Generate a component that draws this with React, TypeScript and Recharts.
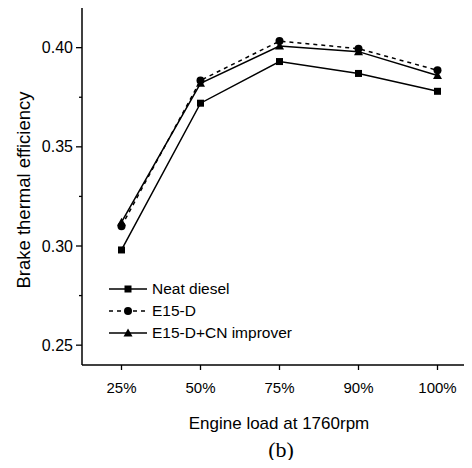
import React from 'react';
import { LineChart, Line, XAxis, YAxis, Customized } from 'recharts';

const loads = ['25%', '50%', '75%', '90%', '100%'];
const neatDiesel = [0.298, 0.372, 0.393, 0.387, 0.378];
const e15d = [0.310, 0.3835, 0.4033, 0.3995, 0.3886];
const e15dCn = [0.312, 0.382, 0.4008, 0.398, 0.386];
const yTicks = [0.25, 0.275, 0.3, 0.325, 0.35, 0.375, 0.4];
const majorTicks = ['0.25', '0.30', '0.35', '0.40'];

const data = loads.map((load, i) => ({
  load,
  neat: neatDiesel[i],
  e15d: e15d[i],
  e15dcn: e15dCn[i],
}));

const FONT = '"Liberation Sans", Arial, sans-serif';

const Square = (props: any) => {
  const { cx, cy } = props;
  if (cx == null || cy == null) return null;
  return <rect x={cx - 3.5} y={cy - 3.5} width={7} height={7} fill="#000" />;
};
const Circle = (props: any) => {
  const { cx, cy } = props;
  if (cx == null || cy == null) return null;
  return <circle cx={cx} cy={cy} r={4} fill="#000" />;
};
const Tri = (props: any) => {
  const { cx, cy } = props;
  if (cx == null || cy == null) return null;
  return <polygon points={`${cx},${cy - 4.5} ${cx - 4.5},${cy + 3.5} ${cx + 4.5},${cy + 3.5}`} fill="#000" />;
};

const YTick = (props: any) => {
  const { y, payload } = props;
  const v = payload.value;
  const label = v.toFixed(2);
  const isMajor = majorTicks.includes(label) && Math.abs(v * 1000 - Math.round(v * 20) * 50) < 1;
  return (
    <g>
      <line x1={82} x2={isMajor ? 76 : 79} y1={y} y2={y} stroke="#000" strokeWidth={1.3} />
      {isMajor && (
        <text x={73} y={y + 5.5} textAnchor="end" fontSize={16} fontFamily={FONT} fill="#000">
          {label}
        </text>
      )}
    </g>
  );
};

const XTick = (props: any) => {
  const { x, payload } = props;
  return (
    <g>
      <line x1={x} x2={x} y1={365} y2={370} stroke="#000" strokeWidth={1.3} />
      <text x={x} y={393} textAnchor="middle" fontSize={15} fontFamily={FONT} fill="#000">
        {payload.value}
      </text>
    </g>
  );
};

const Extras = () => {
  const rows = [
    { label: 'Neat diesel', y: 289, dash: undefined, M: Square },
    { label: 'E15-D', y: 311, dash: '4 4', M: Circle },
    { label: 'E15-D+CN improver', y: 333, dash: undefined, M: Tri },
  ];
  return (
    <g>
      {rows.map((r) => (
        <g key={r.label}>
          <line x1={109} x2={147} y1={r.y} y2={r.y} stroke="#000" strokeWidth={1.5} strokeDasharray={r.dash} />
          <r.M cx={128} cy={r.y} />
          <text x={152} y={r.y + 5} fontSize={15.5} fontFamily={FONT} fill="#000">
            {r.label}
          </text>
        </g>
      ))}
      <text
        x={25}
        y={190}
        transform="rotate(-90 25 190)"
        textAnchor="middle"
        dominantBaseline="middle"
        fontSize={18.5}
        fontFamily={FONT}
        fill="#000"
      >
        Brake thermal efficiency
      </text>
      <text x={279} y={429} textAnchor="middle" fontSize={17} fontFamily={FONT} fill="#000">
        Engine load at 1760rpm
      </text>
      <text x={281} y={457} textAnchor="middle" fontSize={22} fontFamily='"Liberation Serif", "Times New Roman", serif' fill="#000">
        (b)
      </text>
    </g>
  );
};

export default function App() {
  return (
    <div style={{ margin: -8, width: 472, height: 468, overflow: 'hidden', position: 'relative', background: '#fff' }}>
      <LineChart
        width={480}
        height={468}
        data={data}
        margin={{ top: 8, right: 3, bottom: 73, left: 22 }}
      >
        <XAxis
          dataKey="load"
          type="category"
          padding={{ left: 39.5, right: 39.5 }}
          axisLine={{ stroke: '#000', strokeWidth: 1.5 }}
          tickLine={false}
          tick={<XTick />}
          height={30}
          interval={0}
        />
        <YAxis
          type="number"
          domain={[0.24, 0.42]}
          ticks={yTicks}
          width={60}
          axisLine={{ stroke: '#000', strokeWidth: 1.5 }}
          tickLine={false}
          tick={<YTick />}
          interval={0}
          allowDataOverflow
        />
        <Line dataKey="neat" stroke="#000" strokeWidth={1.5} dot={<Square />} isAnimationActive={false} />
        <Line dataKey="e15d" stroke="#000" strokeWidth={1.5} strokeDasharray="4 4" dot={<Circle />} isAnimationActive={false} />
        <Line dataKey="e15dcn" stroke="#000" strokeWidth={1.5} dot={<Tri />} isAnimationActive={false} />
        <Customized component={Extras} />
      </LineChart>
    </div>
  );
}
